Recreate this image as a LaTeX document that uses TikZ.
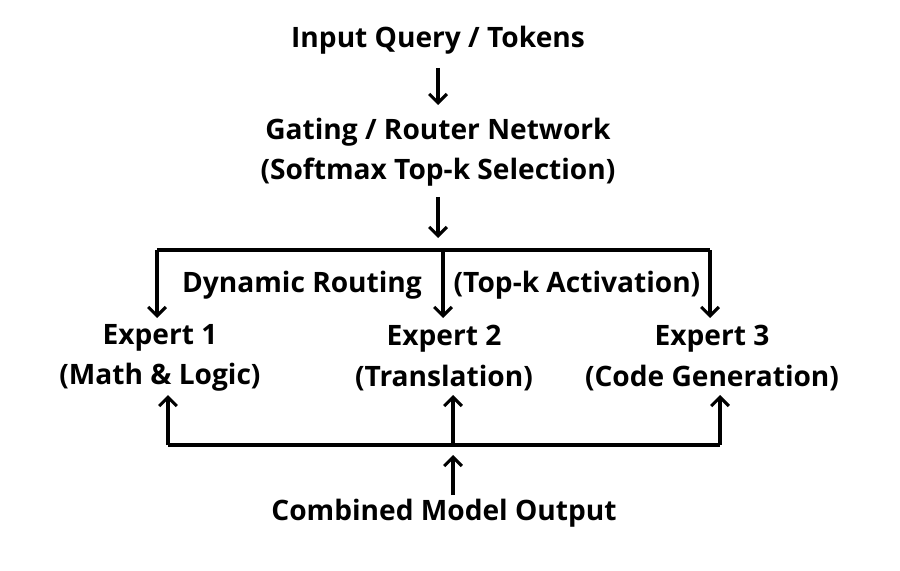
\documentclass[tikz,border=0pt]{standalone}
\usepackage{fontspec}
\setmainfont{Open Sans}
\usetikzlibrary{arrows.meta}

\begin{document}
\begin{tikzpicture}[x = 0.02cm, y = -0.02cm, % one unit per reference pixel
                > = {Straight Barb[length=5pt, width=10pt]}, % open arrow head
                line width = 1.8pt
            ]

            \tikzstyle{every node}=[align = center, inner sep = 0pt,
            font = \fontsize{16}{23}\selectfont\bfseries]

            \useasboundingbox (0,0) rectangle (900,571);

            \node (input) at (438,40) {Input Query / Tokens};
            \node (gate) at (438,152) {Gating / Router Network\\(Softmax Top-k Selection)};
            \node (e1) at (160,358) {Expert 1\\(Math \& Logic)};
            \node (e2) at (444,358) {Expert 2\\(Translation)};
            \node (e3) at (712,358) {Expert 3\\(Code Generation)};
            \node (dyn) at (302,285) {Dynamic Routing};
            \node (topk) at (577,285) {(Top-k Activation)};
            \node (out) at (444,513) {Combined Model Output};

            \coordinate (split) at (438,250);
            \coordinate (join) at (453,445);

            \draw[->] (438,68) -- (438,105);
            \draw[->] (438,197) -- (438,238);
            \draw (157,250) -- (710,250);
            \draw[->] (157,250) -- (157,318);
            \draw[->] (443,250) -- (443,318);
            \draw[->] (710,250) -- (710,318);
            \draw (168,445) -- (720,445);
            \draw[->] (168,445) -- (168,395);
            \draw[->] (join) -- (453,395);
            \draw[->] (720,445) -- (720,395);
            \draw[->] (453,495) -- (453,455);
        \end{tikzpicture}
\end{document}
